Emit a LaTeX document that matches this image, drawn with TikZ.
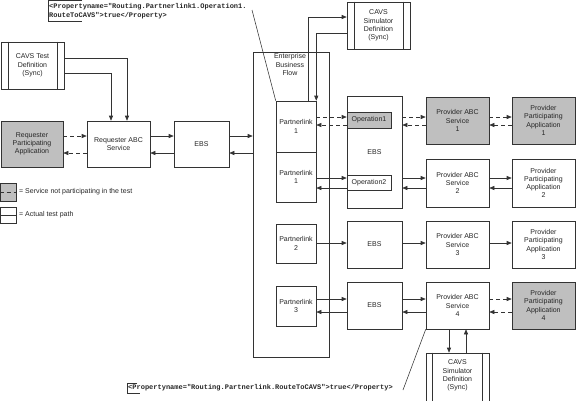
\documentclass[tikz,border=0pt]{standalone}
\usepackage{fontspec}
\setmainfont{Liberation Sans}
\newfontfamily\monof{Liberation Mono}
\usetikzlibrary{arrows.meta,calc}
\begin{document}
\begin{tikzpicture}[x=1pt,y=-1pt,
  bx/.style={draw=black!80, line width=0.55pt, fill=white, align=center, inner sep=0pt,
     text=black!85, font=\fontsize{7}{8.3}\selectfont},
  gbox/.style={bx, fill=black!25},
  lbl/.style={inner sep=0pt, align=center, text=black!85, font=\fontsize{7}{8.3}\selectfont},
  mono/.style={inner sep=0pt, align=left, text=black!85, font=\monof\bfseries\fontsize{7}{9}\selectfont},
  ln/.style={line width=0.55pt, draw=black!80},
  arr/.style={ln, -{Triangle[length=5pt,width=4pt]}},
  darr/.style={arr, dash pattern=on 4pt off 3pt},
]
\useasboundingbox (0,0) rectangle (576,400);

% left part
\node[bx, minimum width=63pt, minimum height=47pt] (ctd) at (32.5,65.5) {CAVS Test\\Definition\\(Sync)};
\draw[ln] ([xshift=7.5pt]ctd.north west) -- ([xshift=7.5pt]ctd.south west);
\draw[ln] ([xshift=-7.5pt]ctd.north east) -- ([xshift=-7.5pt]ctd.south east);
\node[gbox, minimum width=62pt, minimum height=46pt] (rpa) at (32,144) {Requester\\Participating\\Application};
\node[bx, minimum width=63pt, minimum height=46pt] (rabc) at (118.5,144) {Requester ABC\\Service};
\node[bx, minimum width=55pt, minimum height=46pt] (ebs0) at (201.5,144) {EBS};

% enterprise business flow
\node[bx, minimum width=76pt, minimum height=305pt] (ebf) at (291,204.5) {};
\node[lbl, anchor=north] (ebft) at (290,53.5) {Enterprise\\Business\\Flow};
\node[bx, minimum width=40pt, minimum height=51pt] (pl1a) at (296,126.5) {Partnerlink\\1};
\node[bx, minimum width=40pt, minimum height=50pt] (pl1b) at (296,177) {Partnerlink\\1};
\node[bx, minimum width=40pt, minimum height=39pt] (pl2) at (296,243.5) {Partnerlink\\2};
\node[bx, minimum width=40pt, minimum height=40pt] (pl3) at (296,306) {Partnerlink\\3};

% top simulator
\node[bx, minimum width=63pt, minimum height=47pt] (csim1) at (378.5,25.5) {CAVS\\Simulator\\Definition\\(Sync)};
\draw[ln] ([xshift=8pt]csim1.north west) -- ([xshift=8pt]csim1.south west);
\draw[ln] ([xshift=-7pt]csim1.north east) -- ([xshift=-7pt]csim1.south east);

% EBS boxes
\node[bx, minimum width=55pt, minimum height=112pt] (ebs1) at (374.5,152) {EBS};
\node[gbox, minimum width=44pt, minimum height=16pt] (op1) at (369,120) {Operation1};
\node[bx, minimum width=44pt, minimum height=15pt] (op2) at (369,182.5) {Operation2};
\node[bx, minimum width=55pt, minimum height=47pt] (ebs3) at (374.5,244.5) {EBS};
\node[bx, minimum width=55pt, minimum height=47pt] (ebs4) at (374.5,305.5) {EBS};

% providers
\node[gbox, minimum width=63pt, minimum height=47pt] (pabc1) at (457.5,120.5) {Provider ABC\\Service\\1};
\node[gbox, minimum width=63pt, minimum height=47pt] (ppa1) at (543.5,120.5) {Provider\\Participating\\Application\\1};
\node[bx, minimum width=63pt, minimum height=48pt] (pabc2) at (457.5,183) {Provider ABC\\Service\\2};
\node[bx, minimum width=63pt, minimum height=48pt] (ppa2) at (543.5,183) {Provider\\Participating\\Application\\2};
\node[bx, minimum width=63pt, minimum height=47pt] (pabc3) at (457.5,244.5) {Provider ABC\\Service\\3};
\node[bx, minimum width=63pt, minimum height=47pt] (ppa3) at (543.5,244.5) {Provider\\Participating\\Application\\3};
\node[bx, minimum width=63pt, minimum height=47pt] (pabc4) at (457.5,305.5) {Provider ABC\\Service\\4};
\node[gbox, minimum width=63pt, minimum height=47pt] (ppa4) at (543.5,305.5) {Provider\\Participating\\Application\\4};

% bottom simulator
\node[bx, minimum width=63pt, minimum height=50pt] (csim2) at (457.5,378) {};
\draw[ln] ([xshift=7pt]csim2.north west) -- ([xshift=7pt]csim2.south west);
\draw[ln] ([xshift=-7pt]csim2.north east) -- ([xshift=-7pt]csim2.south east);
\node[lbl] (csim2t) at (457.5,375.5) {CAVS\\Simulator\\Definition\\(Sync)};

% connectors left
\draw[arr] (ctd.east |- 0,58) -| (rabc.north -| 127,0);
\draw[arr] (ctd.east |- 0,73) -| (rabc.north -| 111,0);
\draw[darr] (rpa.east |- 0,136) -- (rabc.west |- 0,136);
\draw[darr] (rabc.west |- 0,153) -- (rpa.east |- 0,153);
\draw[arr] (rabc.east |- 0,136) -- (ebs0.west |- 0,136);
\draw[arr] (ebs0.west |- 0,153) -- (rabc.east |- 0,153);
\draw[arr] (ebs0.east |- 0,136) -- (ebf.west |- 0,136);
\draw[arr] (ebf.west |- 0,153) -- (ebs0.east |- 0,153);

% top simulator connectors
\draw[arr] (pl1a.north -| 308,0) |- (csim1.west |- 0,17);
\draw[arr] (csim1.west |- 0,33) -| (pl1a.north east);

% row 1
\draw[darr] (pl1a.east |- 0,117) -- (op1.west |- 0,117);
\draw[darr] (op1.west |- 0,125) -- (pl1a.east |- 0,125);
\draw[darr] (ebs1.east |- 0,117) -- (pabc1.west |- 0,117);
\draw[darr] (pabc1.west |- 0,125) -- (ebs1.east |- 0,125);
\draw[darr] (pabc1.east |- 0,117) -- (ppa1.west |- 0,117);
\draw[darr] (ppa1.west |- 0,125) -- (pabc1.east |- 0,125);

% row 2
\draw[arr] (pl1b.east |- 0,178) -- (op2.west |- 0,178);
\draw[arr] (op2.west |- 0,188) -- (pl1b.east |- 0,188);
\draw[arr] (ebs1.east |- 0,178) -- (pabc2.west |- 0,178);
\draw[arr] (pabc2.west |- 0,188) -- (ebs1.east |- 0,188);
\draw[arr] (pabc2.east |- 0,178) -- (ppa2.west |- 0,178);
\draw[arr] (ppa2.west |- 0,188) -- (pabc2.east |- 0,188);

% row 3
\draw[arr] (pl2.east |- 0,243) -- (ebs3.west |- 0,243);
\draw[arr] (ebs3.east |- 0,243) -- (pabc3.west |- 0,243);
\draw[arr] (pabc3.east |- 0,243) -- (ppa3.west |- 0,243);

% row 4
\draw[arr] (pl3.east |- 0,299) -- (ebs4.west |- 0,299);
\draw[arr] (ebs4.west |- 0,312) -- (pl3.east |- 0,312);
\draw[arr] (ebs4.east |- 0,299) -- (pabc4.west |- 0,299);
\draw[arr] (pabc4.west |- 0,312) -- (ebs4.east |- 0,312);
\draw[darr] (pabc4.east |- 0,299) -- (ppa4.west |- 0,299);
\draw[darr] (ppa4.west |- 0,312) -- (pabc4.east |- 0,312);
\draw[arr] (pabc4.south -| 449,0) -- (csim2.north -| 449,0);
\draw[arr] (csim2.north -| 466,0) -- (pabc4.south -| 466,0);

% callouts
\coordinate (c1) at (252,10);
\draw[ln] (c1) -- (pl1a.north west);
\coordinate (c2) at (403,390);
\draw[ln] (pabc4.south west) -- (c2);
\draw[ln] (82,0.7) -- (48,0.7) -- (48,21) -- (82,21);
\node[mono, anchor=north west] (t1) at (49,2.8) {<Propertyname="Routing.Partnerlink1.Operation1.\\RouteToCAVS">true</Property>};
\draw[ln] (137,383) -- (127,383) -- (127,393) -- (140,393);
\node[mono, anchor=west] (t2) at (128,387.5) {<Propertyname="Routing.Partnerlink.RouteToCAVS">true</Property>};

% legend
\node[gbox, minimum width=16pt, minimum height=18pt] (lg1) at (8,192) {};
\draw[ln, dash pattern=on 4pt off 3pt] (lg1.west) -- (lg1.east);
\node[lbl, anchor=west] (lg1t) at (19,192) {= Service not participating in the test};
\node[bx, minimum width=16pt, minimum height=16pt] (lg2) at (8,215) {};
\draw[ln] (lg2.west) -- (lg2.east);
\node[lbl, anchor=west] (lg2t) at (19,215) {= Actual test path};
\end{tikzpicture}
\end{document}
